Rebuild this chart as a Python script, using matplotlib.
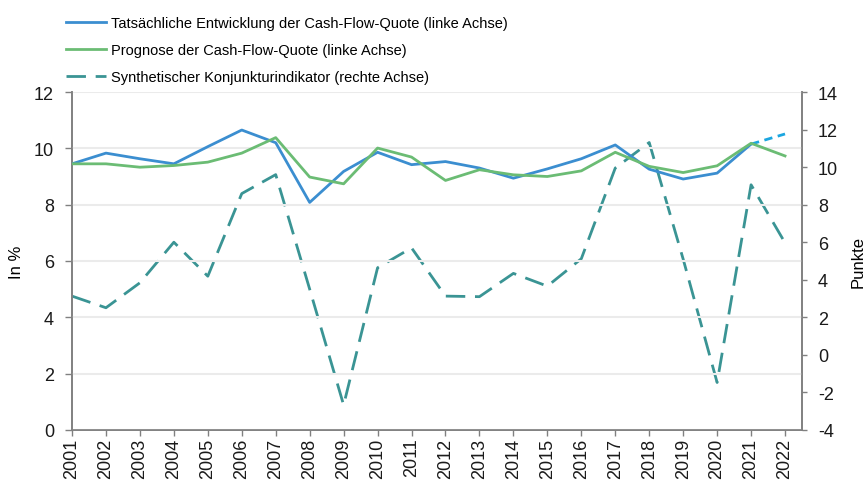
import matplotlib
matplotlib.use("Agg")
import matplotlib.pyplot as plt
from matplotlib.lines import Line2D

plt.rcParams["font.family"] = ["Liberation Sans", "DejaVu Sans"]
plt.rcParams["font.size"] = 13
plt.rcParams["axes.unicode_minus"] = False

BLUE = "#3B8ED0"
LIGHT_BLUE = "#1BA6E0"
GREEN = "#6BBC74"
TEAL = "#3A9494"
GREY = "#808080"

years = [str(y) for y in range(2001, 2023)]
actual = [9.45, 9.83, 9.63, 9.45, 10.06, 10.65, 10.2, 8.08, 9.18, 9.86, 9.42,
          9.53, 9.3, 8.94, 9.27, 9.63, 10.12, 9.26, 8.91, 9.12, 10.15]
actual_ext = [10.15, 10.51]          # 2021 -> 2022, dotted
forecast = [9.45, 9.45, 9.33, 9.39, 9.51, 9.83, 10.38, 8.98, 8.74, 10.01, 9.69,
            8.86, 9.24, 9.06, 9.0, 9.2, 9.86, 9.36, 9.14, 9.38, 10.18, 9.73]
indicator = [3.13, 2.51, 3.84, 6.0, 4.19, 8.59, 9.6, 3.5, -2.67, 4.64, 5.7,
             3.13, 3.1, 4.34, 3.66, 5.12, 9.95, 11.31, 5.1, -1.47, 9.06, 5.97]

x = list(range(len(years)))

fig = plt.figure(figsize=(8.66, 4.85), dpi=100)
ax = fig.add_axes([72 / 866, 1 - 431 / 485, 730 / 866, 338 / 485])
ax2 = ax.twinx()

ax.set_zorder(ax2.get_zorder() + 1)
ax.patch.set_visible(False)

ax.yaxis.grid(True, color="#EBEBEB", linewidth=1.5, zorder=0)
ax.set_axisbelow(True)

ax.plot(x[:len(actual)], actual, color=BLUE, linewidth=2.0, zorder=3)
ax.plot(x[20:22], actual_ext, color=LIGHT_BLUE, linewidth=2.0,
        linestyle=(0, (3, 2)), zorder=3)
ax.plot(x, forecast, color=GREEN, linewidth=2.0, zorder=3)
ax2.plot(x, indicator, color=TEAL, linewidth=2.0, linestyle=(0, (7, 3.5)))

ax.set_ylim(0, 12)
ax.set_yticks(range(0, 13, 2))
ax2.set_ylim(-4, 14)
ax2.set_yticks(range(-4, 15, 2))
ax.set_xlim(0, 21.5)
ax.set_xticks(x)
ax.set_xticklabels(years, rotation=90)

for a in (ax, ax2):
    a.spines["top"].set_visible(False)
    for s in ("left", "right", "bottom"):
        a.spines[s].set_color(GREY)
        a.spines[s].set_linewidth(1.2)
    a.tick_params(colors="#1A1A1A", width=1.0, length=4.5, direction="out", labelsize=13)
    a.tick_params(axis="both", color=GREY)
ax.tick_params(axis="y", pad=8, length=5)
ax2.tick_params(axis="y", pad=8, length=3.6)
ax.tick_params(axis="x", pad=1)

ax.set_ylabel("In %", labelpad=7, fontsize=12)
ax2.set_ylabel("Punkte", labelpad=9, fontsize=12)

handles = [
    Line2D([0], [0], color=BLUE, linewidth=2.0),
    Line2D([0], [0], color=GREEN, linewidth=2.0),
    Line2D([0], [0], color=TEAL, linewidth=2.0, linestyle=(0, (7, 3.5))),
]
labels = [
    "Tatsächliche Entwicklung der Cash-Flow-Quote (linke Achse)",
    "Prognose der Cash-Flow-Quote (linke Achse)",
    "Synthetischer Konjunkturindikator (rechte Achse)",
]
fig.legend(handles, labels, loc="upper left", bbox_to_anchor=(66 / 866, 1 - 17 / 485),
           frameon=False, handlelength=2.75, handletextpad=0.35, labelspacing=0.9,
           borderaxespad=0, borderpad=0, fontsize=10.5)

fig.savefig("out.png", dpi=100)
